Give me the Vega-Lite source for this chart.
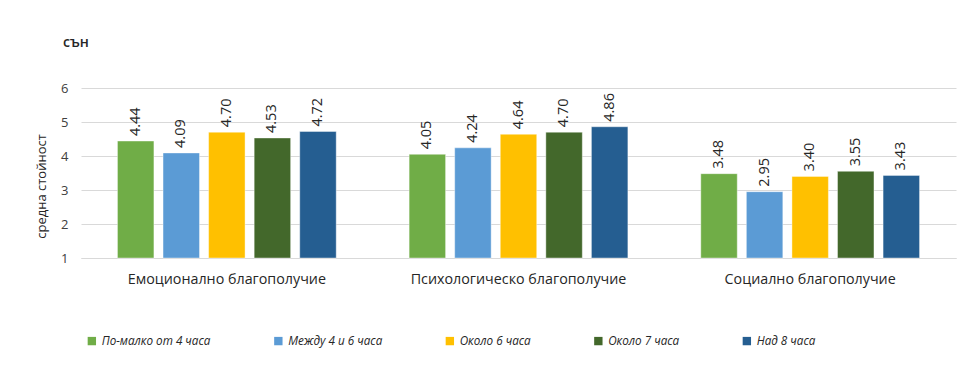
{
  "$schema": "https://vega.github.io/schema/vega-lite/v6.json",
  "width": 875,
  "height": 170,
  "autosize": "none",
  "padding": {"left": 81, "top": 88, "right": 23, "bottom": 127},
  "background": "white",
  "title": {"text": "сън", "anchor": "start", "frame": "group", "dx": -18, "offset": 32, "fontSize": 14, "fontWeight": 600, "color": "#262626", "font": "Open Sans"},
  "data": {"values": [
    {"cat": "Емоционално благополучие", "grp": "По-малко от 4 часа", "v": 4.44},
    {"cat": "Емоционално благополучие", "grp": "Между 4 и 6 часа", "v": 4.09},
    {"cat": "Емоционално благополучие", "grp": "Около 6 часа", "v": 4.70},
    {"cat": "Емоционално благополучие", "grp": "Около 7 часа", "v": 4.53},
    {"cat": "Емоционално благополучие", "grp": "Над 8 часа", "v": 4.72},
    {"cat": "Психологическо благополучие", "grp": "По-малко от 4 часа", "v": 4.05},
    {"cat": "Психологическо благополучие", "grp": "Между 4 и 6 часа", "v": 4.24},
    {"cat": "Психологическо благополучие", "grp": "Около 6 часа", "v": 4.64},
    {"cat": "Психологическо благополучие", "grp": "Около 7 часа", "v": 4.70},
    {"cat": "Психологическо благополучие", "grp": "Над 8 часа", "v": 4.86},
    {"cat": "Социално благополучие", "grp": "По-малко от 4 часа", "v": 3.48},
    {"cat": "Социално благополучие", "grp": "Между 4 и 6 часа", "v": 2.95},
    {"cat": "Социално благополучие", "grp": "Около 6 часа", "v": 3.40},
    {"cat": "Социално благополучие", "grp": "Около 7 часа", "v": 3.55},
    {"cat": "Социално благополучие", "grp": "Над 8 часа", "v": 3.43}
  ]},
  "encoding": {
    "x": {"field": "cat", "type": "nominal", "sort": null, "title": null,
      "scale": {"paddingInner": 0.25, "paddingOuter": 0.125},
      "axis": {"labelAngle": 0, "ticks": false, "labelPadding": 14, "labelLimit": 400, "labelFontSize": 14.3, "labelColor": "#262626", "labelFont": "Open Sans", "domainColor": "#d9d9d9", "domainWidth": 1}},
    "xOffset": {"field": "grp", "type": "nominal", "sort": null, "scale": {"paddingInner": 0.2}},
    "y": {"field": "v", "type": "quantitative", "title": "средна стойност",
      "scale": {"domain": [1, 6], "nice": false, "zero": false},
      "axis": {"values": [1, 2, 3, 4, 5, 6], "ticks": false, "domain": false, "labelPadding": 13, "labelFontSize": 13, "labelColor": "#404040", "labelFont": "Open Sans", "gridColor": "#d9d9d9", "titleFont": "Open Sans", "titleFontSize": 13, "titleFontWeight": "normal", "titleColor": "#262626", "titlePadding": 12, "titleY": 98}}
  },
  "layer": [
    {"mark": {"type": "bar", "stroke": "white", "strokeOpacity": 0.4, "strokeWidth": 1},
     "encoding": {"y2": {"datum": 1},
       "color": {"field": "grp", "type": "nominal", "sort": null,
        "scale": {"domain": ["По-малко от 4 часа", "Между 4 и 6 часа", "Около 6 часа", "Около 7 часа", "Над 8 часа"],
                  "range": ["#70ad47", "#5b9bd5", "#ffc000", "#43682b", "#255e91"]},
        "legend": {"title": null, "orient": "none", "legendX": 5, "legendY": 247, "direction": "horizontal", "columns": 5,
          "columnPadding": 61.5, "symbolType": "square", "symbolSize": 70, "symbolStrokeWidth": 0, "symbolOffset": 0, "labelOffset": 4,
          "labelFontSize": 11.7, "labelFontStyle": "italic", "labelColor": "#262626", "labelFont": "Open Sans"}}}},
    {"mark": {"type": "text", "angle": -90, "align": "left", "baseline": "middle", "dx": 5, "fontSize": 14.5, "font": "Open Sans", "color": "#262626"},
     "encoding": {"text": {"field": "v", "type": "quantitative", "format": ".2f"}}}
  ],
  "config": {"view": {"stroke": null}}
}
